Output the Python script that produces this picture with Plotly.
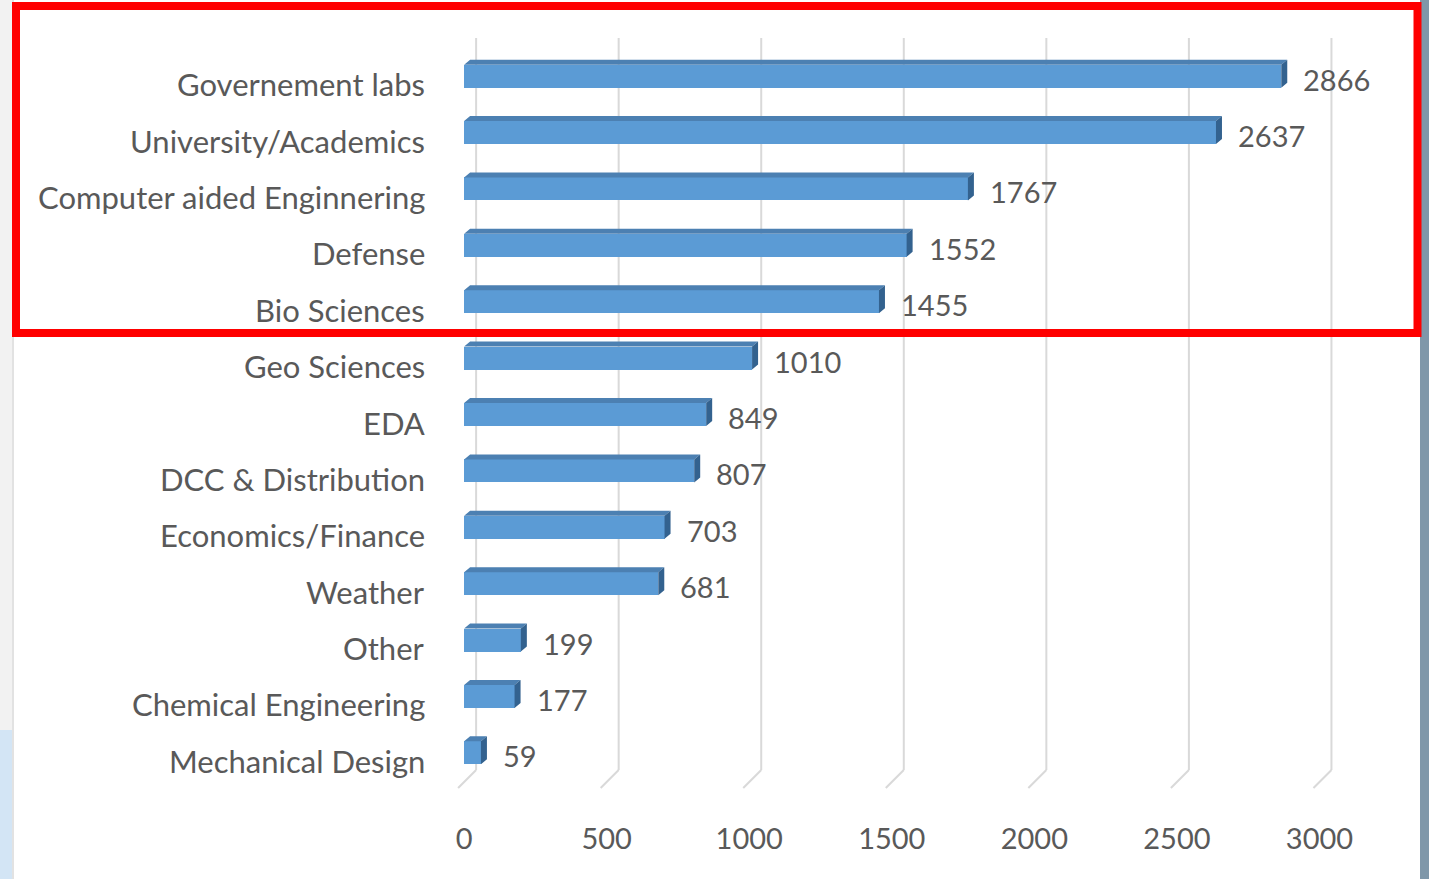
import plotly.graph_objects as go

categories = ["Governement labs", "University/Academics", "Computer aided Enginnering",
              "Defense", "Bio Sciences", "Geo Sciences", "EDA", "DCC & Distribution",
              "Economics/Finance", "Weather", "Other", "Chemical Engineering",
              "Mechanical Design"]
values = [2866, 2637, 1767, 1552, 1455, 1010, 849, 807, 703, 681, 199, 177, 59]
x_ticks = [0, 500, 1000, 1500, 2000, 2500, 3000]

W, H = 1429, 879
ML, MR, MT, MB = 447, 24, 48, 98
XMIN, XMAX = -60, 3300
pw = W - ML - MR
ph = H - MT - MB
ux = (XMAX - XMIN) / pw          # data units per pixel (x)
uy = 13 / ph                      # data units per pixel (y)

FONT = "Lato"
GRAY = "#595959"
FRONT = "#5B9BD5"
TOP = "#4C80B2"
SIDE = "#33628F"

bar_h = 23 * uy
dep_x = 6 * ux
dep_y = 5 * uy

ypos = list(range(len(categories)))

fig = go.Figure()


def py2paper(py):
    return (H - MB - py) / ph


def px2paper(px):
    return (px - ML) / pw


# back-wall gridlines with slanted floor segment
for v in x_ticks:
    xb = v + 12 * ux
    fig.add_shape(type="line", xref="x", yref="paper", x0=xb, x1=xb,
                  y0=py2paper(38), y1=py2paper(770),
                  line=dict(color="#D9D9D9", width=2), layer="below")
    fig.add_shape(type="line", xref="x", yref="paper", x0=xb, x1=xb - 18 * ux,
                  y0=py2paper(770), y1=py2paper(788),
                  line=dict(color="#D9D9D9", width=2), layer="below")

# front faces
fig.add_trace(go.Bar(x=values, y=ypos, orientation="h", width=bar_h,
                     marker=dict(color=FRONT, line=dict(width=0)),
                     hoverinfo="skip", showlegend=False))

# top faces and end caps (parallelograms)
tx, ty, sx, sy = [], [], [], []
for v, y in zip(values, ypos):
    yt = y - bar_h / 2
    yb = y + bar_h / 2
    tx += [0, v, v + dep_x, dep_x, 0, None]
    ty += [yt, yt, yt - dep_y, yt - dep_y, yt, None]
    sx += [v, v + dep_x, v + dep_x, v, v, None]
    sy += [yt, yt - dep_y, yb - dep_y, yb, yt, None]
fig.add_trace(go.Scatter(x=tx, y=ty, fill="toself", fillcolor=TOP, mode="lines",
                         line=dict(width=0), hoverinfo="skip", showlegend=False))
fig.add_trace(go.Scatter(x=sx, y=sy, fill="toself", fillcolor=SIDE, mode="lines",
                         line=dict(width=0), hoverinfo="skip", showlegend=False))

# category labels
for c, y in zip(categories, ypos):
    fig.add_annotation(x=px2paper(427), xref="paper", y=y, yref="y", text=c,
                       xanchor="right", yanchor="middle", showarrow=False, yshift=-8,
                       font=dict(family=FONT, size=31, color=GRAY))
# value labels
for v, y in zip(values, ypos):
    fig.add_annotation(x=v, y=y, xref="x", yref="y", text=str(v), xanchor="left",
                       yanchor="middle", showarrow=False, xshift=20, yshift=-3,
                       font=dict(family=FONT, size=29, color=GRAY))

# decorations: side strips and red highlight box
fig.add_shape(type="rect", xref="paper", yref="paper",
              x0=px2paper(0), x1=px2paper(12), y0=py2paper(730), y1=py2paper(0),
              fillcolor="#F2F2F2", line=dict(width=0), layer="below")
fig.add_shape(type="rect", xref="paper", yref="paper",
              x0=px2paper(12), x1=px2paper(14), y0=py2paper(H), y1=py2paper(0),
              fillcolor="#E2E2E2", line=dict(width=0), layer="below")
fig.add_shape(type="rect", xref="paper", yref="paper",
              x0=px2paper(0), x1=px2paper(12), y0=py2paper(H), y1=py2paper(730),
              fillcolor="#D3E5F5", line=dict(width=0), layer="below")
fig.add_shape(type="rect", xref="paper", yref="paper",
              x0=px2paper(1420), x1=px2paper(W), y0=py2paper(H), y1=py2paper(0),
              fillcolor="#7F97A9", line=dict(width=0), layer="below")
fig.add_shape(type="rect", xref="paper", yref="paper",
              x0=px2paper(16), x1=px2paper(1417.5), y0=py2paper(333), y1=py2paper(6),
              fillcolor="rgba(0,0,0,0)", line=dict(color="#FF0000", width=8))

fig.update_layout(
    width=W, height=H,
    margin=dict(l=ML, r=MR, t=MT, b=MB),
    paper_bgcolor="white", plot_bgcolor="white",
    bargap=0, showlegend=False,
    xaxis=dict(range=[XMIN, XMAX], tickvals=x_ticks, ticktext=[str(t) for t in x_ticks],
               showgrid=False, zeroline=False, showline=False,
               ticks="outside", ticklen=32, tickcolor="rgba(0,0,0,0)",
               tickfont=dict(family=FONT, size=29, color=GRAY), fixedrange=True),
    yaxis=dict(range=[12.5, -0.5], showticklabels=False, showgrid=False,
               zeroline=False, showline=False, fixedrange=True),
)

fig.write_html("out.html", config={"displayModeBar": False},
               post_script="document.body.style.margin='0';document.body.style.overflow='hidden';")
